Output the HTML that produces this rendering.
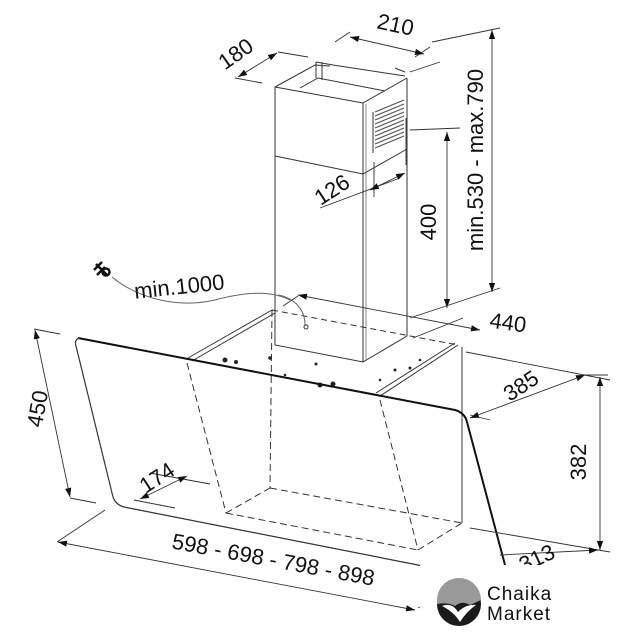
<!DOCTYPE html>
<html><head><meta charset="utf-8"><style>
html,body{margin:0;padding:0;background:#fff;}
svg{display:block;}
text{font-family:"Liberation Sans",Arial,sans-serif;fill:#111;}
</style></head><body>
<svg width="617" height="640" viewBox="0 0 617 640" xmlns="http://www.w3.org/2000/svg">
<defs>
<marker id="a" viewBox="0 0 10 10" refX="10" refY="5" markerWidth="9" markerHeight="9" orient="auto-start-reverse" markerUnits="userSpaceOnUse"><path d="M0,1.5 L10,5 L0,8.5z" fill="#111"/></marker>
</defs>
<g stroke="#333" fill="none" stroke-width="1">
<path d="M275,87 L275,345 L363,362 L407,336 L407,78"/>
<path d="M363,103 L363,362"/>
<path d="M366,104 L366,360" stroke="#888"/>
<path d="M275,87 L363,103 L407,78"/>
<path d="M275,87 L315,65 L330,66 M316,62 L316,78 M322,62 L322,80 M316,62 L333,65 L405,76"/>
<path d="M300,88 L318,78 L385,91 M395,68 L405,72"/>
<path d="M275,156 L363,174 L407,149"/>
<path d="M373,112 L373,153"/>
<g stroke="#555" stroke-width="1.2">
<path d="M375,112 L404,100 M375,116 L404,104 M375,120 L404,108 M375,124 L404,112 M375,128 L404,116 M375,132 L404,120 M375,136 L404,124 M375,140 L404,128 M375,144 L404,132 M375,148 L404,136"/>
</g>
<path d="M188,358 L272,310 M192,361 L275,313"/>
<path d="M272,310 L458,345" stroke-dasharray="6,4"/>
<path d="M458,345 L380,396 M455,343 L376,393"/>
<path d="M462,347 L462,523"/>
<path d="M272,310 L270,488 M187,363 L226,513 M380,400 L418,550 M226,513 L270,488 M270,488 L462,523 M226,513 L418,550 M418,550 L462,523" stroke-dasharray="7,4"/>
<path d="M112,277 C140,300 180,308 215,300 C245,292 270,290 290,300" stroke="#666"/>
<path d="M278,295 C295,298 305,310 305,325" stroke="#666"/>
<circle cx="306" cy="327" r="2"/>
</g>
<g fill="#222">
<circle cx="270" cy="358" r="1.8"/><circle cx="316" cy="364" r="1.5"/><circle cx="320" cy="385" r="2.5"/><circle cx="333" cy="384" r="2.5"/><circle cx="225" cy="360" r="2.5"/><circle cx="236" cy="362" r="2"/><circle cx="395" cy="370" r="1.5"/><circle cx="410" cy="368" r="1.5"/><circle cx="285" cy="375" r="1.3"/><circle cx="380" cy="380" r="1.3"/><circle cx="420" cy="360" r="1.3"/>
</g>
<path d="M78,338 L455,410 Q465,413 467,422 L505,565" stroke="#111" stroke-width="2" fill="none"/>
<path d="M80,338 Q74,339 76,346 L113,497 Q116,505 124,507 L428,567" stroke="#333" stroke-width="1.2" fill="none"/>
<g stroke="#111" stroke-width="2.5" fill="none">
<path d="M94,270 L102,262 M97,275 L105,267 M96,264 L107,275"/>
<circle cx="106" cy="272" r="3.5"/>
</g>
<g stroke="#333" stroke-width="0.9" fill="none">
<path d="M235,78 L262,83 M278,52 L308,57"/>
<path d="M238,77 L277,53" marker-start="url(#a)" marker-end="url(#a)"/>
<path d="M335,42 L350,32 M415,57 L430,47"/>
<path d="M350,37 L424,54" marker-start="url(#a)" marker-end="url(#a)"/>
<path d="M432,42 L500,28 M410,72 L440,62"/>
<path d="M492,30 L492,292" marker-start="url(#a)" marker-end="url(#a)"/>
<path d="M410,130 L460,128"/>
<path d="M447,132 L447,308" marker-start="url(#a)" marker-end="url(#a)"/>
<path d="M410,318 L500,288"/>
<path d="M320,208 L400,178 M374,162 L374,197 M406,118 L406,165"/>
<path d="M370,190 L405,173" marker-start="url(#a)" marker-end="url(#a)"/>
<path d="M298,295 L480,330" marker-start="url(#a)" marker-end="url(#a)"/>
<path d="M413,338 L463,318 M283,306 L298,296"/>
<path d="M466,352 L610,380 M470,415 L490,420"/>
<path d="M470,418 L585,375" marker-start="url(#a)" marker-end="url(#a)"/>
<path d="M470,528 L610,552 M585,375 L608,375"/>
<path d="M600,377 L600,550" marker-start="url(#a)" marker-end="url(#a)"/>
<path d="M34,329 L60,334 M70,498 L96,503"/>
<path d="M35,330 L70,497" marker-start="url(#a)" marker-end="url(#a)"/>
<path d="M150,473 L210,484 M134,500 L175,508"/>
<path d="M140,499 L187,476" marker-start="url(#a)" marker-end="url(#a)"/>
<path d="M57,542 L105,510 M418,608 L440,596"/>
<path d="M58,542 L415,610" marker-start="url(#a)" marker-end="url(#a)"/>
<path d="M500,555 L598,550" marker-end="url(#a)"/>
</g>
<g font-size="22">
<text transform="translate(240,60) rotate(-35)" text-anchor="middle">180</text>
<text transform="translate(394,32) rotate(12)" text-anchor="middle">210</text>
<text transform="translate(483,160) rotate(-90)" text-anchor="middle">min.530 - max.790</text>
<text transform="translate(436,222) rotate(-90)" text-anchor="middle">400</text>
<text transform="translate(336,196) rotate(-33)" text-anchor="middle">126</text>
<text transform="translate(180,294) rotate(-6)" text-anchor="middle">min.1000</text>
<text transform="translate(507,330) rotate(8)" text-anchor="middle">440</text>
<text transform="translate(525,392) rotate(-33)" text-anchor="middle">385</text>
<text transform="translate(586,462) rotate(-90)" text-anchor="middle">382</text>
<text transform="translate(45,410) rotate(-80)" text-anchor="middle">450</text>
<text transform="translate(161,484) rotate(-33)" text-anchor="middle">174</text>
<text transform="translate(272,567) rotate(10.5)" text-anchor="middle">598 - 698 - 798 - 898</text>
<text transform="translate(540,565) rotate(-25)" text-anchor="middle">313</text>
</g>
<rect x="420" y="565" width="197" height="75" fill="#fff"/>
<circle cx="459" cy="604" r="22" fill="#1a1a1a"/>
<path d="M437,600 A22,22 0 0 1 481,600 L470,605 Q462,600 455,606 Q448,602 437,604z" fill="#999"/>
<path d="M442,606 Q452,602 458,612 Q466,604 476,605 Q466,612 460,622 Q454,612 442,606z" fill="#fff"/>
<text x="487" y="600" font-size="19" style="letter-spacing:1px">Chaika</text>
<text x="487" y="620" font-size="19" style="letter-spacing:1px">Market</text>
</svg>
</body></html>
